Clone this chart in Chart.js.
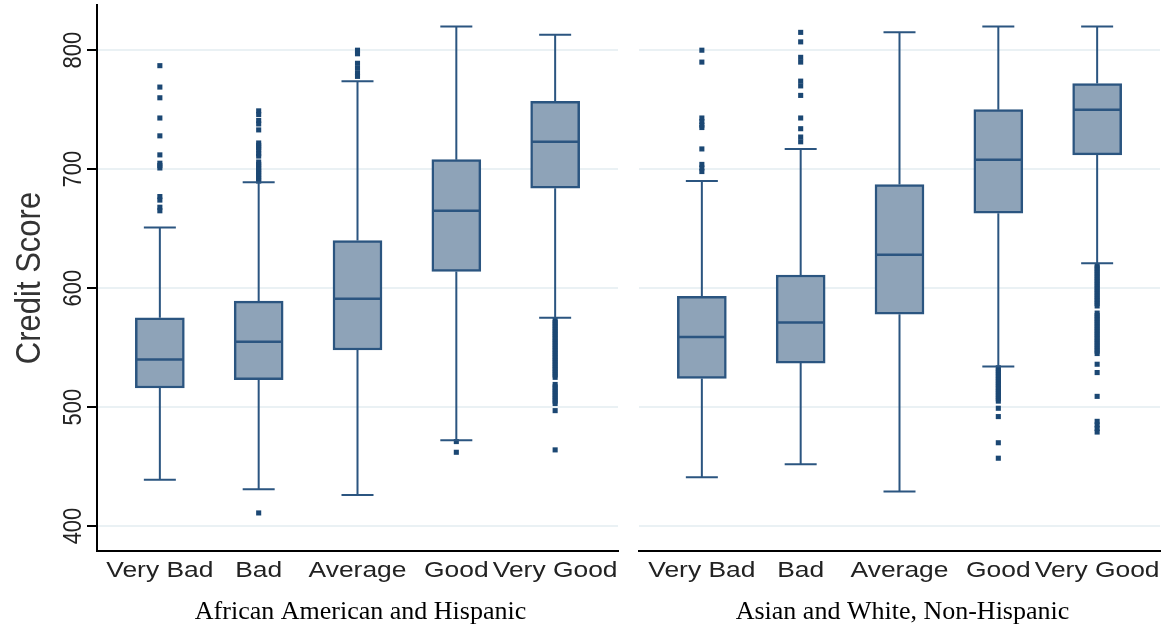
<!DOCTYPE html>
<html>
<head>
<meta charset="utf-8">
<script src="https://cdn.jsdelivr.net/npm/chart.js@4.4.1/dist/chart.umd.min.js"></script>
<style>
  body { margin: 0; background: #fff; }
  #wrap { position: relative; width: 1171px; height: 628px; }
  #left { position: absolute; left: 0; top: 0; }
  #right { position: absolute; left: 630px; top: 0; }
</style>
</head>
<body>
<div id="wrap">
  <canvas id="left" width="630" height="628"></canvas>
  <canvas id="right" width="541" height="628"></canvas>
</div>
<script>
const categorias = ['Very Bad', 'Bad', 'Average', 'Good', 'Very Good'];
const yTicks = [400, 500, 600, 700, 800];

// African American and Hispanic
const aaMin = [439, 431, 426, 472, 575];
const aaQ1 = [516, 523, 548, 614, 684];
const aaMed = [540, 555, 591, 665, 723];
const aaQ3 = [575, 589, 640, 708, 757];
const aaMax = [651, 689, 774, 820, 813];
const aaOut = [
  [787, 769, 760, 743, 728, 712, 705, 703, 701, 677, 674, 668, 665],
  [411, 749, 746, 741, 738, 733, 722, 720, 718, 716, 713, 711, 706, 704, 702, 700, 698, 696, 694, 692, 690],
  [800, 797, 789, 785, 781, 778],
  [471, 462],
  [573, 571, 569, 567, 565, 563, 561, 559, 557, 555, 553, 551, 549, 547, 545, 543, 541, 539, 537, 535,
   533, 531, 529, 527, 525, 519, 517, 515, 513, 511, 509, 507, 505, 503, 497, 464]
];

// Asian and White, Non-Hispanic
const awMin = [441, 452, 429, 534, 621];
const awQ1 = [524, 537, 578, 663, 712];
const awMed = [559, 571, 628, 708, 750];
const awQ3 = [593, 611, 687, 750, 772];
const awMax = [690, 717, 815, 820, 820];
const awOut = [
  [800, 790, 743, 740, 737, 735, 717, 704, 701, 698],
  [815, 807, 794, 790, 774, 770, 762, 743, 734, 727, 723],
  [],
  [533, 531, 529, 527, 525, 523, 521, 519, 517, 515, 513, 511, 509, 507, 505, 499, 492, 470, 457],
  [619, 617, 615, 613, 611, 609, 607, 605, 603, 601, 599, 597, 595, 593, 591, 589, 587, 585,
   579, 577, 575, 573, 571, 569, 567, 565, 563, 561, 559, 557, 555, 553, 551, 549, 547, 545,
   536, 529, 509, 488, 485, 482, 479]
];

const corCaixa = '#8ea3b8';
const corLinha = '#2b5580';
const corPonto = '#1b4773';

//desenha bigodes, tampas e mediana
const caixas = {
  id: 'caixas',
  afterDatasetsDraw(chart, args, opts) {
    const ctx = chart.ctx;
    const x = chart.scales.x;
    const y = chart.scales.y;
    ctx.save();
    ctx.strokeStyle = corLinha;
    ctx.lineWidth = 2;
    opts.med.forEach((m, i) => {
      const px = x.getPixelForValue(i);
      ctx.beginPath();
      ctx.moveTo(px, y.getPixelForValue(opts.q3[i]));
      ctx.lineTo(px, y.getPixelForValue(opts.max[i]));
      ctx.moveTo(px, y.getPixelForValue(opts.q1[i]));
      ctx.lineTo(px, y.getPixelForValue(opts.min[i]));
      ctx.moveTo(px - 16, y.getPixelForValue(opts.max[i]));
      ctx.lineTo(px + 16, y.getPixelForValue(opts.max[i]));
      ctx.moveTo(px - 16, y.getPixelForValue(opts.min[i]));
      ctx.lineTo(px + 16, y.getPixelForValue(opts.min[i]));
      ctx.stroke();
      ctx.lineWidth = 2.5;
      ctx.beginPath();
      ctx.moveTo(px - 24, y.getPixelForValue(m));
      ctx.lineTo(px + 24, y.getPixelForValue(m));
      ctx.stroke();
      ctx.lineWidth = 2;
    });
    ctx.restore();
  }
};

//textos esticados na horizontal, como na imagem original
const textos = {
  id: 'textos',
  afterDraw(chart, args, opts) {
    const ctx = chart.ctx;
    const x = chart.scales.x;
    const y = chart.scales.y;
    ctx.save();
    ctx.fillStyle = '#222';
    ctx.font = '22px "Liberation Sans", Arial, sans-serif';
    ctx.textAlign = 'center';
    ctx.textBaseline = 'alphabetic';
    x.ticks.forEach(t => {
      ctx.save();
      ctx.translate(x.getPixelForValue(t.value), 577);
      ctx.scale(1.2, 1);
      ctx.fillText(categorias[t.value], 0, 0);
      ctx.restore();
    });
    if (opts.eixoY) {
      yTicks.forEach(v => {
        ctx.save();
        ctx.translate(81, y.getPixelForValue(v));
        ctx.rotate(-Math.PI / 2);
        ctx.scale(1, 1.2);
        ctx.fillText(String(v), 0, 0);
        ctx.restore();
      });
      ctx.save();
      ctx.fillStyle = '#333';
      ctx.font = '31px "Liberation Sans", Arial, sans-serif';
      ctx.translate(40, (chart.chartArea.top + chart.chartArea.bottom) / 2);
      ctx.rotate(-Math.PI / 2);
      ctx.scale(1, 1.12);
      ctx.fillText('Credit Score', 0, 0);
      ctx.restore();
    }
    //titulo do painel, serifado e sem esticar
    ctx.fillStyle = '#000';
    ctx.font = '26px "Liberation Serif", "Times New Roman", serif';
    ctx.fillText(opts.titulo, (chart.chartArea.left + chart.chartArea.right) / 2 + 3, 619);
    ctx.restore();
  }
};

//cria um painel de boxplot
function criaGrafico(canvas, min, q1, med, q3, max, out, titulo, eixoY, larguraY, padDireita) {
  const pontos = [];
  out.forEach((lista, i) => lista.forEach(v => pontos.push({ x: i, y: v })));
  return new Chart(canvas, {
    type: 'bar',
    data: {
      datasets: [{
        type: 'bar',
        data: categorias.map((c, i) => ({ x: i, y: [q1[i], q3[i]] })),
        backgroundColor: corCaixa,
        borderColor: corLinha,
        borderWidth: 2.5,
        borderSkipped: false,
        barThickness: 49
      }, {
        type: 'scatter',
        data: pontos,
        pointStyle: 'rect',
        pointRadius: 3.6,
        pointBorderWidth: 0,
        backgroundColor: corPonto,
        borderColor: corPonto
      }]
    },
    options: {
      responsive: false,
      animation: false,
      layout: { padding: { top: 5, right: padDireita, left: 0, bottom: 0 } },
      plugins: {
        legend: { display: false },
        tooltip: { enabled: false },
        caixas: { min, q1, med, q3, max },
        textos: { titulo, eixoY }
      },
      scales: {
        x: {
          type: 'linear',
          offset: false,
          min: -0.636,
          max: 4.636,
          afterBuildTicks: s => { s.ticks = categorias.map((c, i) => ({ value: i })); },
          grid: { display: false, drawTicks: false, offset: false },
          border: { color: '#000', width: 2 },
          ticks: { display: false },
          afterFit: s => { s.height = 77; }
        },
        y: {
          min: 379,
          max: 838,
          afterBuildTicks: s => { s.ticks = yTicks.map(v => ({ value: v })); },
          grid: { color: '#eaf1f4', lineWidth: 2, tickColor: '#000', tickLength: 10, drawTicks: eixoY },
          border: { display: eixoY, color: '#000', width: 2 },
          ticks: { display: false },
          afterFit: s => { s.width = larguraY; }
        }
      }
    },
    plugins: [caixas, textos]
  });
}

criaGrafico(document.getElementById('left'), aaMin, aaQ1, aaMed, aaQ3, aaMax, aaOut,
  'African American and Hispanic', true, 97, 12);
criaGrafico(document.getElementById('right'), awMin, awQ1, awMed, awQ3, awMax, awOut,
  'Asian and White, Non-Hispanic', false, 9, 11);
</script>
</body>
</html>
